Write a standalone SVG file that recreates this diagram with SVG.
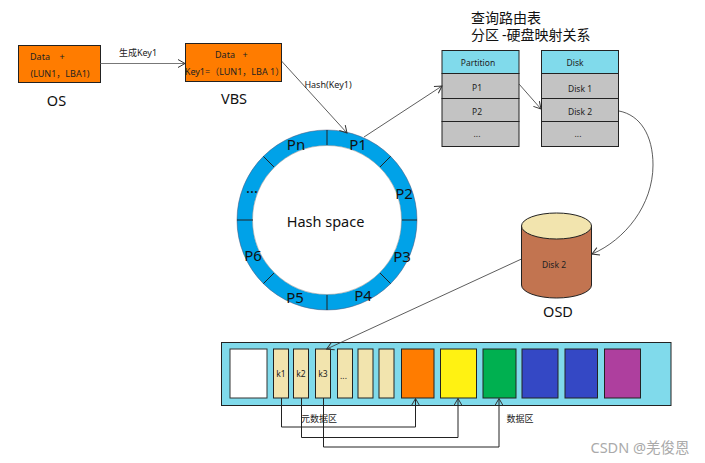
<svg xmlns="http://www.w3.org/2000/svg" width="705" height="463" viewBox="0 0 705 463">
<style>
text{font-family:"Noto Sans","Noto Sans CJK SC",sans-serif;fill:#222;text-anchor:middle;dominant-baseline:central}
.s{font-size:9px}.t{font-size:8.500px}.m{font-size:14.500px;fill:#111}.p{font-size:15px;fill:#111}
.b{stroke:#222;stroke-width:1}
.c{fill:none;stroke:#333;stroke-width:.8}
.d{fill:none;stroke:#222;stroke-width:1}
.cell{fill:#f2e4ae;stroke:#222}
.o{fill:#ff7c00}
.g{fill:#c3c3c3}
.h{fill:#80daeb}
</style>
<defs>
<marker id="a" markerWidth="10" markerHeight="10" refX="8" refY="4" orient="auto" markerUnits="userSpaceOnUse" viewBox="0 0 10 8">
<path d="M1,0 L8,4 L1,8" fill="none" stroke="#333" stroke-width="1"/>
</marker>
</defs>
<rect width="705" height="463" fill="#fff"/>
<g id="os">
<rect x="18.500" y="45.500" width="82" height="37" class="o b"/>
<text class="s" x="40" y="56">Data</text><text class="s" x="62" y="56">+</text>
<text class="s" x="60" y="73.500">(LUN1，LBA1)</text>
<text class="m" x="56.500" y="100">OS</text>
</g>
<g id="vbs">
<rect x="185.500" y="43.500" width="96" height="38" class="o b"/>
<text class="s" x="225" y="54">Data</text><text class="s" x="245" y="54">+</text>
<text class="s" x="234.500" y="71">Key1=（LUN1，LBA 1）</text>
<text class="m" x="234" y="98">VBS</text>
</g>
<g id="ring">
<circle cx="327" cy="220" r="82.300" fill="none" stroke="#00a2e8" stroke-width="15.500"/>
<circle cx="327" cy="220" r="90" fill="none" stroke="#557" stroke-width=".5"/>
<circle cx="327" cy="220" r="74.500" fill="none" stroke="#888" stroke-width=".5"/>
<path class="d" d="M327,130V145M390.600,156.400L380,167M417,220H402M390.600,283.600L380,273M327,310V295M263.400,283.600L274,273M237,220H253M263.400,156.400L274,167"/>
<text class="p" x="358" y="144">P1</text><text class="p" x="404" y="193">P2</text>
<text class="p" x="402" y="256">P3</text><text class="p" x="363" y="295">P4</text>
<text class="p" x="295" y="297">P5</text><text class="p" x="253" y="255">P6</text>
<text class="p" x="252" y="187">...</text><text class="p" x="296" y="144">Pn</text>
<text class="m" x="325.500" y="221">Hash space</text>
</g>
<g id="title">
<text x="471" y="17" font-size="14" style="text-anchor:start;fill:#111">查询路由表</text>
<text x="471" y="34" font-size="14" style="text-anchor:start;fill:#111">分区<tspan dx="3">-</tspan>硬盘映射关系</text>
</g>
<g id="partition-table">
<rect x="442" y="50.500" width="77" height="23" class="h b"/>
<rect x="442" y="73.500" width="77" height="25" class="g b"/>
<rect x="442" y="98.500" width="77" height="23" class="g b"/>
<rect x="442" y="121.500" width="77" height="25" class="g b"/>
<text class="t" x="478" y="62.500">Partition</text>
<text class="t" x="477" y="87.500">P1</text>
<text class="t" x="477" y="111">P2</text>
<text class="t" x="477" y="133">...</text>
</g>
<g id="disk-table">
<rect x="541.500" y="50.500" width="77" height="23" class="h b"/>
<rect x="541.500" y="73.500" width="77" height="25" class="g b"/>
<rect x="541.500" y="98.500" width="77" height="23" class="g b"/>
<rect x="541.500" y="121.500" width="77" height="25" class="g b"/>
<text class="t" x="575" y="62.500">Disk</text>
<text class="t" x="580" y="88">Disk 1</text>
<text class="t" x="580" y="111">Disk 2</text>
<text class="t" x="578" y="133">...</text>
</g>
<g id="osd">
<path d="M521.500,226V285A35,13 0 0 0 591.500,285V226Z" fill="#c27450" stroke="#222"/>
<ellipse cx="556.500" cy="226" rx="35" ry="13" fill="#f2e4ae" stroke="#222"/>
<text class="t" x="554" y="264">Disk 2</text>
<text class="m" x="558" y="311">OSD</text>
</g>
<g id="storage">
<rect x="221.500" y="342.500" width="449.500" height="63" class="h b"/>
<rect x="230" y="349" width="37" height="49" fill="#fff" stroke="#333"/>
<rect x="273.500" y="349" width="15" height="49" class="cell"/>
<rect x="293.500" y="349" width="15" height="49" class="cell"/>
<rect x="315.500" y="349" width="15" height="49" class="cell"/>
<rect x="337.500" y="349" width="15" height="49" class="cell"/>
<rect x="358" y="349" width="15" height="49" class="cell"/>
<rect x="379" y="349" width="15" height="49" class="cell"/>
<rect x="401.500" y="349" width="32.500" height="49" fill="#ff7c00" stroke="#222"/>
<rect x="440.500" y="349" width="36" height="49" fill="#fff212" stroke="#222"/>
<rect x="483" y="349" width="33" height="49" fill="#00b050" stroke="#222"/>
<rect x="522" y="349" width="36" height="49" fill="#3448c5" stroke="#222"/>
<rect x="565" y="349" width="32.500" height="49" fill="#3448c5" stroke="#222"/>
<rect x="604.500" y="349" width="36" height="49" fill="#ae3f9e" stroke="#222"/>
<text class="t" x="281" y="373.500">k1</text>
<text class="t" x="301" y="373.500">k2</text>
<text class="t" x="323" y="373.500">k3</text>
<text class="t" x="343.500" y="375">...</text>
</g>
<g id="connectors">
<path class="c" d="M100.500,63.500H185" marker-end="url(#a)" style="stroke:#777;stroke-width:1.200"/>
<path class="c" d="M281.500,61L347,133" marker-end="url(#a)"/>
<path class="c" d="M364,137L442,86" marker-end="url(#a)"/>
<path class="c" d="M519,84L541,109" marker-end="url(#a)"/>
<path class="c" d="M619,111C640,115 653,135 653,165C653,205 625,240 592,254" marker-end="url(#a)"/>
<path class="c" d="M521.500,259L326.700,349" marker-end="url(#a)"/>
<path class="d" d="M281.500,398V427H415.500V398.500" marker-end="url(#a)"/>
<path class="d" d="M301.500,398V437.500H458V398.500" marker-end="url(#a)"/>
<path class="d" d="M323.500,398V447H499V398.500" marker-end="url(#a)"/>
</g>
<g id="labels">
<text class="s" x="138" y="52.500">生成Key1</text>
<text class="s" x="328" y="84">Hash(Key1)</text>
<text class="s" x="319" y="418">元数据区</text>
<text class="s" x="520" y="418">数据区</text>
<text x="640" y="447" font-size="14.500" style="fill:#aaa">CSDN @羌俊恩</text>
</g>
</svg>
